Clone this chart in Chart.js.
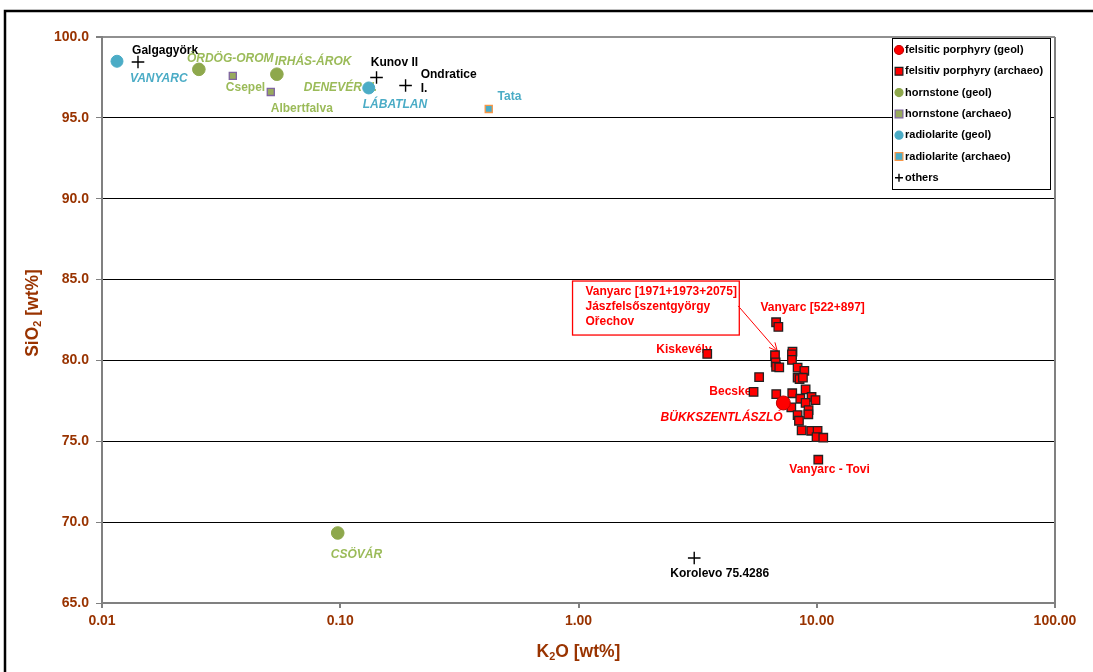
<!DOCTYPE html>
<html>
<head>
<meta charset="UTF-8">
<title>SiO2 vs K2O</title>
<script src="https://cdn.jsdelivr.net/npm/chart.js"></script>
<style>
  body { margin: 0; background: #ffffff; }
  #wrap { width: 1093px; height: 672px; }
</style>
</head>
<body>
<div id="wrap"><canvas id="chart" width="1093" height="672"></canvas></div>
<script>
  // K2O [wt%] (x) and SiO2 [wt%] (y)
  const felsiticGeolK2O = [7.24];
  const felsiticGeolSiO2 = [77.37];

  const felsiticArchK2O = [6.75, 6.90, 6.68, 7.91, 7.87, 7.87, 6.72, 6.75, 6.96, 5.73, 8.31, 8.87,
    8.31, 8.47, 8.75, 5.43, 6.76, 7.89, 8.98, 8.53, 9.51, 9.88, 8.98, 7.82, 9.24, 9.22, 8.31,
    8.42, 8.64, 9.48, 10.08, 9.98, 10.65, 10.15, 3.47];
  const felsiticArchSiO2 = [82.36, 82.07, 80.32, 80.54, 80.38, 80.03, 79.88, 79.61, 79.57, 78.97, 79.55, 79.36,
    78.93, 78.85, 78.93, 78.05, 77.92, 77.97, 78.21, 77.63, 77.74, 77.55, 77.37, 77.10, 76.93, 76.67, 76.62,
    76.27, 75.68, 75.65, 75.65, 75.26, 75.22, 73.86, 80.40];

  const hornGeolK2O = [0.0255, 0.0542, 0.0976];
  const hornGeolSiO2 = [98.0, 97.7, 69.33];

  const hornArchK2O = [0.0354, 0.0511];
  const hornArchSiO2 = [97.6, 96.6];

  const radGeolK2O = [0.01156, 0.1317];
  const radGeolSiO2 = [98.5, 96.85];

  const radArchK2O = [0.42];
  const radArchSiO2 = [95.55];

  const othersK2O = [0.01416, 0.142, 0.188, 3.06];
  const othersSiO2 = [98.45, 97.5, 97.0, 67.78];

  const xTickValues = [0.01, 0.1, 1, 10, 100];
  const xTickLabels = ['0.01', '0.10', '1.00', '10.00', '100.00'];

  // site names, anchored (left edge, middle) in data units
  const siteNames = ['Galgagyörk', 'VANYARC', 'ÖRDÖG-OROM', 'IRHÁS-ÁROK', 'Csepel', 'Albertfalva',
    'DENEVÉR U.', 'LÁBATLAN', 'Kunov II', 'Ondratice', 'I.', 'Tata', 'CSÖVÁR', 'Korolevo 75.4286',
    'Kiskevély', 'Vanyarc [522+897]', 'Becske', 'BÜKKSZENTLÁSZLÓ', 'Vanyarc - Tovi'];
  const siteK2O = [0.01337, 0.01311, 0.02272, 0.0531, 0.0331, 0.0511, 0.0703, 0.1243, 0.1343, 0.2176,
    0.2176, 0.4575, 0.0912, 2.43, 2.12, 5.80, 3.54, 2.21, 7.67];
  const siteSiO2 = [99.13, 97.40, 98.64, 98.45, 96.85, 95.55, 96.85, 95.80, 98.39, 97.65, 96.78,
    96.29, 67.97, 66.79, 80.64, 83.24, 78.05, 76.44, 73.22];
  const siteGroup = ['other', 'radGeol', 'hornGeol', 'hornGeol', 'horn', 'horn', 'hornGeol', 'radGeol',
    'other', 'other', 'other', 'rad', 'hornGeol', 'other', 'fels', 'fels', 'fels', 'felsGeol', 'fels'];

  const calloutLines = ['Vanyarc [1971+1973+2075]', 'Jászfelsőszentgyörgy', 'Ořechov'];

  const groupStyle = {
    other: { color: '#000000', italic: false },
    radGeol: { color: '#4BACC6', italic: true },
    rad: { color: '#4BACC6', italic: false },
    hornGeol: { color: '#9BBB59', italic: true },
    horn: { color: '#9BBB59', italic: false },
    fels: { color: '#FF0000', italic: false },
    felsGeol: { color: '#FF0000', italic: true }
  };

  const FONT = '"Liberation Sans", Arial, sans-serif';
  const BROWN = '#993300';

  function pts(xs, ys) { return xs.map((x, i) => ({ x: x, y: ys[i] })); }

  const datasets = [
    { label: 'felsitic porphyry (geol)', data: pts(felsiticGeolK2O, felsiticGeolSiO2),
      pointStyle: 'circle', pointRadius: 7, backgroundColor: '#FF0000', borderColor: '#C00000', borderWidth: 1, legendRadius: 4.5 },
    { label: 'felsitiv porphyry (archaeo)', data: pts(felsiticArchK2O, felsiticArchSiO2),
      pointStyle: 'rect', pointRadius: 6, backgroundColor: '#FF0000', borderColor: '#222222', borderWidth: 1.3, legendRadius: 5.5 },
    { label: 'hornstone (geol)', data: pts(hornGeolK2O, hornGeolSiO2),
      pointStyle: 'circle', pointRadius: 6.3, backgroundColor: '#8EA84C', borderColor: '#8EA84C', borderWidth: 1, legendRadius: 4 },
    { label: 'hornstone (archaeo)', data: pts(hornArchK2O, hornArchSiO2),
      pointStyle: 'rect', pointRadius: 5, backgroundColor: '#98AA5C', borderColor: '#7F64A0', borderWidth: 1.3, legendRadius: 5.5 },
    { label: 'radiolarite (geol)', data: pts(radGeolK2O, radGeolSiO2),
      pointStyle: 'circle', pointRadius: 6, backgroundColor: '#4BACC6', borderColor: '#4BACC6', borderWidth: 1, legendRadius: 4 },
    { label: 'radiolarite (archaeo)', data: pts(radArchK2O, radArchSiO2),
      pointStyle: 'rect', pointRadius: 5, backgroundColor: '#4BACC6', borderColor: '#F79646', borderWidth: 1.3, legendRadius: 5.5 },
    { label: 'others', data: pts(othersK2O, othersSiO2),
      pointStyle: 'cross', pointRadius: 6.3, backgroundColor: '#000000', borderColor: '#000000', borderWidth: 1.4, legendRadius: 4 }
  ];

  // text annotations drawn under the markers
  const siteLabels = {
    id: 'siteLabels',
    beforeDatasetsDraw(chart) {
      const ctx = chart.ctx, xs = chart.scales.x, ys = chart.scales.y;
      ctx.save();
      ctx.textAlign = 'left';
      ctx.textBaseline = 'middle';
      siteNames.forEach((name, i) => {
        const st = groupStyle[siteGroup[i]];
        ctx.font = (st.italic ? 'italic ' : '') + 'bold 12px ' + FONT;
        ctx.fillStyle = st.color;
        ctx.fillText(name, xs.getPixelForValue(siteK2O[i]), ys.getPixelForValue(siteSiO2[i]));
      });

      // callout box with arrow
      const bx = xs.getPixelForValue(0.944), by = ys.getPixelForValue(84.91);
      const bx2 = xs.getPixelForValue(4.73), by2 = ys.getPixelForValue(81.57);
      ctx.fillStyle = '#ffffff';
      ctx.fillRect(bx, by, bx2 - bx, by2 - by);
      ctx.strokeStyle = '#FF0000';
      ctx.lineWidth = 1.3;
      ctx.strokeRect(bx, by, bx2 - bx, by2 - by);
      ctx.fillStyle = '#FF0000';
      ctx.font = 'bold 12px ' + FONT;
      const tx = xs.getPixelForValue(1.07);
      [84.23, 83.30, 82.38].forEach((v, i) => ctx.fillText(calloutLines[i], tx, ys.getPixelForValue(v)));

      const ax = xs.getPixelForValue(4.68), ay = ys.getPixelForValue(83.37);
      const ex = xs.getPixelForValue(6.83), ey = ys.getPixelForValue(80.58);
      ctx.lineWidth = 1;
      ctx.beginPath();
      ctx.moveTo(ax, ay);
      ctx.lineTo(ex, ey);
      const ang = Math.atan2(ey - ay, ex - ax);
      [-0.45, 0.45].forEach(d => {
        ctx.moveTo(ex, ey);
        ctx.lineTo(ex - 9 * Math.cos(ang + d), ey - 9 * Math.sin(ang + d));
      });
      ctx.stroke();
      ctx.restore();
    }
  };

  function drawSubText(ctx, parts, size) {
    // parts: [text, isSub]
    let w = 0;
    parts.forEach(p => {
      ctx.font = 'bold ' + (p[1] ? size * 0.62 : size) + 'px ' + FONT;
      w += ctx.measureText(p[0]).width;
    });
    let x = -w / 2;
    parts.forEach(p => {
      ctx.font = 'bold ' + (p[1] ? size * 0.62 : size) + 'px ' + FONT;
      ctx.fillText(p[0], x, p[1] ? size * 0.3 : 0);
      x += ctx.measureText(p[0]).width;
    });
  }

  const frameAndLegend = {
    id: 'frameAndLegend',
    afterDraw(chart) {
      const ctx = chart.ctx, area = chart.chartArea;
      ctx.save();
      // outer frame
      ctx.strokeStyle = '#000000';
      ctx.lineWidth = 2.5;
      ctx.strokeRect(5, 11, 1200, 800);
      // right border of plot
      ctx.strokeStyle = '#808080';
      ctx.lineWidth = 2;
      ctx.beginPath();
      ctx.moveTo(area.right, area.top);
      ctx.lineTo(area.right, area.bottom);
      ctx.stroke();

      // axis titles
      ctx.fillStyle = BROWN;
      ctx.textAlign = 'left';
      ctx.textBaseline = 'middle';
      ctx.save();
      ctx.translate((area.left + area.right) / 2, 652);
      drawSubText(ctx, [['K', false], ['2', true], ['O [wt%]', false]], 17.5);
      ctx.restore();
      ctx.save();
      ctx.translate(33, 313);
      ctx.rotate(-Math.PI / 2);
      drawSubText(ctx, [['SiO', false], ['2', true], [' [wt%]', false]], 17.5);
      ctx.restore();

      // legend
      const lx = 892, ly = 38, lw = 158, lh = 151;
      ctx.fillStyle = '#ffffff';
      ctx.fillRect(lx, ly, lw, lh);
      ctx.strokeStyle = '#000000';
      ctx.lineWidth = 1;
      ctx.strokeRect(lx + 0.5, ly + 0.5, lw, lh);
      ctx.font = 'bold 11px ' + FONT;
      ctx.textBaseline = 'middle';
      datasets.forEach((ds, i) => {
        const y = ly + 12 + i * 21.3;
        ctx.fillStyle = ds.backgroundColor;
        ctx.strokeStyle = ds.borderColor;
        ctx.lineWidth = ds.pointStyle === 'cross' ? 1.4 : 1.2;
        Chart.helpers.drawPoint(ctx, { pointStyle: ds.pointStyle, radius: ds.legendRadius, rotation: 0, borderWidth: ctx.lineWidth }, lx + 7, y);
        ctx.fillStyle = '#000000';
        ctx.fillText(ds.label, lx + 13, y);
      });
      ctx.restore();
    }
  };

  new Chart(document.getElementById('chart'), {
    type: 'scatter',
    data: { datasets: datasets },
    plugins: [siteLabels, frameAndLegend],
    options: {
      responsive: false,
      animation: false,
      devicePixelRatio: 1,
      layout: { padding: { left: 5, right: 38, top: 37, bottom: 0 } },
      plugins: { legend: { display: false }, tooltip: { enabled: false } },
      events: [],
      scales: {
        x: {
          type: 'logarithmic',
          min: 0.01,
          max: 100,
          afterBuildTicks: s => { s.ticks = xTickValues.map(v => ({ value: v })); },
          afterFit: s => { s.height = 69; },
          ticks: {
            autoSkip: false,
            maxRotation: 0,
            padding: 5,
            color: BROWN,
            font: { family: FONT, size: 14, weight: 'bold' },
            callback: (v, i) => xTickLabels[i]
          },
          grid: { drawOnChartArea: false, drawTicks: true, tickLength: 5, color: '#808080', lineWidth: 2 },
          border: { display: true, color: '#808080', width: 2 }
        },
        y: {
          min: 65,
          max: 100,
          afterFit: s => { s.width = 97; },
          ticks: {
            stepSize: 5,
            padding: 7,
            color: BROWN,
            font: { family: FONT, size: 14, weight: 'bold' },
            callback: v => v.toFixed(1)
          },
          grid: {
            color: c => (c.tick && c.tick.value === 100) ? '#909090' : '#000000',
            lineWidth: c => (c.tick && c.tick.value === 100) ? 2 : 1,
            tickColor: '#808080',
            tickLength: 6
          },
          border: { display: true, color: '#808080', width: 2 }
        }
      }
    }
  });
</script>
</body>
</html>
